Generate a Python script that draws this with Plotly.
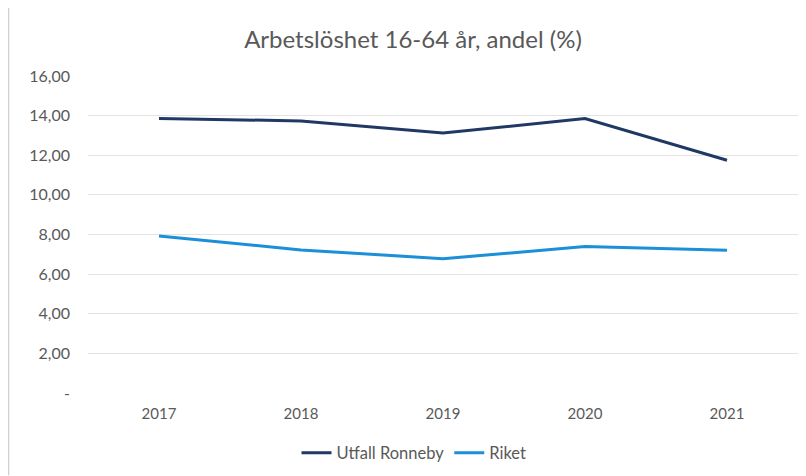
import plotly.graph_objects as go

years = ["2017", "2018", "2019", "2020", "2021"]
ronneby = [13.86, 13.73, 13.12, 13.85, 11.75]
riket = [7.92, 7.22, 6.78, 7.39, 7.20]
y_tickvals = [0, 2, 4, 6, 8, 10, 12, 14, 16]
y_ticktext = ["-", "2,00", "4,00", "6,00", "8,00", "10,00", "12,00", "14,00", "16,00"]

# page body has an 8px margin, so the figure origin sits at (8, 8) in the window
OFF = 8
W, H = 806 - OFF, 476 - OFF
L, R, T, B = 88 - OFF, 8, 75.5 - OFF, 476 - 393.5
pw, ph = W - L - R, H - T - B

def px_x(px):
    return (px - OFF - L) / pw

def px_y(py):
    return (H - B - (py - OFF)) / ph

FONT = "Lato"
GREY = "#595959"

fig = go.Figure()
fig.add_trace(go.Scatter(x=years, y=ronneby, mode="lines", name="Utfall Ronneby",
                         line=dict(color="#203864", width=3)))
fig.add_trace(go.Scatter(x=years, y=riket, mode="lines", name="Riket  ",
                         line=dict(color="#1B8FD8", width=3)))

fig.update_layout(
    width=W, height=H,
    margin=dict(l=L, r=R, t=T, b=B),
    paper_bgcolor="white", plot_bgcolor="white",
    font=dict(family=FONT, color=GREY, size=14),
    title=dict(text="Arbetslöshet 16-64 år, andel (%)", x=(413 - OFF) / W, xanchor="center",
               xref="container", y=1 - (40 - OFF) / H, yref="container", yanchor="middle",
               font=dict(family=FONT, size=24, color=GREY)),
    xaxis=dict(type="category", range=[-0.5, 4.5], showgrid=False, zeroline=False,
               showline=False, ticks="", ticklabelstandoff=10,
               tickfont=dict(size=15, color=GREY)),
    yaxis=dict(range=[0, 16], tickvals=y_tickvals, ticktext=y_ticktext,
               showgrid=True, gridcolor="#E3E3E3", gridwidth=1, zeroline=False,
               showline=False, ticks="", ticklabelstandoff=17,
               tickfont=dict(size=16, color=GREY)),
    legend=dict(orientation="h", xref="container", yref="container",
                x=(418 - OFF) / W, xanchor="center", y=1 - (453 - OFF) / H, yanchor="middle",
                font=dict(size=16.5, color=GREY), bgcolor="rgba(0,0,0,0)",
                itemwidth=30, tracegroupgap=0),
    showlegend=True,
    shapes=[
        dict(type="line", xref="paper", yref="paper", x0=px_x(8.5), x1=px_x(806),
             y0=px_y(4.5), y1=px_y(4.5), line=dict(color="#D0D0D0", width=1.5)),
        dict(type="line", xref="paper", yref="paper", x0=px_x(8.5), x1=px_x(8.5),
             y0=px_y(4.5), y1=px_y(476), line=dict(color="#D0D0D0", width=1.5)),
    ],
)

fig.write_html("out.html")
